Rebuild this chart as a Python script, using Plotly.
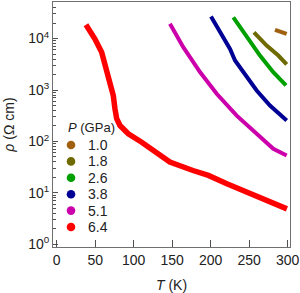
import plotly.graph_objects as go

# ---- data ----
pressures = ["1.0", "1.8", "2.6", "3.8", "5.1", "6.4"]
colors = ["#A0600F", "#6E6A00", "#00A000", "#000094", "#CC00AA", "#FF0000"]

T_10 = [283.5, 292.2, 298.7]
R_10 = [14800, 13200, 12300]

T_18 = [256.2, 272.7, 287.8, 298.7]
R_18 = [13200, 7300, 4680, 3140]

T_26 = [229.4, 246.8, 264.0, 281.3, 297.8]
R_26 = [25900, 10600, 4680, 2220, 1230]

T_38 = [200.4, 214.3, 225.1, 231.6, 242.3, 259.7, 277.0, 298.7]
R_38 = [26700, 12300, 6300, 3750, 2220, 980, 500, 256]

T_51 = [147.1, 164.4, 186.1, 207.8, 233.8, 259.7, 281.3, 298.7]
R_51 = [19300, 6800, 2230, 846, 318, 141, 72, 53.5]

T_64 = [38.0, 44.0, 49.7, 58.4, 64.9, 69.2, 73.5, 75.7, 77.9, 82.2, 93.0,
        110.4, 127.7, 147.0, 177.0, 197.0, 221.0, 251.0, 277.0, 299.0]
R_64 = [18500, 14000, 9800, 5400, 2570, 1420, 780, 430, 277, 204, 141,
        97, 64, 40, 27.3, 21.9, 15.1, 9.6, 6.6, 4.9]

series = [(T_10, R_10), (T_18, R_18), (T_26, R_26), (T_38, R_38), (T_51, R_51), (T_64, R_64)]
widths = [4, 4, 4, 4, 4, 5.5]

x_ticks = [0, 50, 100, 150, 200, 250, 300]
y_exps = [0, 1, 2, 3, 4]
y_ticks = [10 ** e for e in y_exps]
y_ticktext = ["10<sup>%d</sup>" % e for e in y_exps]
y_minor = [m * 10 ** e for e in y_exps for m in range(2, 10)]

FONT = "Liberation Sans, Arial, sans-serif"
YRANGE = [-0.05, 4.71]

fig = go.Figure()
for (t, r), c, w, p in zip(series, colors, widths, pressures):
    fig.add_trace(go.Scatter(x=t, y=r, mode="lines", name=p,
                             line=dict(color=c, width=w),
                             showlegend=False))

axis_common = dict(showline=True, linecolor="#707070", linewidth=1, mirror=True,
                   ticks="inside", tickcolor="#505050", showgrid=False, zeroline=False,
                   automargin=False,
                   tickfont=dict(family=FONT, size=14, color="#222"))

fig.update_xaxes(range=[-4.8, 303], tickvals=x_ticks, ticklen=7,
                 title=dict(text="<i>T</i> (K)", font=dict(family=FONT, size=14, color="#222"), standoff=14),
                 **axis_common)
fig.update_yaxes(type="log", range=YRANGE, tickvals=y_ticks, ticktext=y_ticktext, ticklen=5,
                 title=dict(text="<i>ρ</i> (Ω cm)", font=dict(family=FONT, size=14, color="#222"), standoff=10),
                 **axis_common)
# minor ticks via an overlaid log axis
fig.update_layout(yaxis2=dict(type="log", range=YRANGE, overlaying="y", side="left",
                              tickvals=y_minor, ticks="inside", ticklen=3, tickcolor="#505050",
                              showticklabels=False, showgrid=False, zeroline=False,
                              showline=False, automargin=False, fixedrange=True))
fig.add_trace(go.Scatter(x=[None], y=[None], yaxis="y2", showlegend=False, hoverinfo="skip"))

# legend drawn as markers + labels inside the plot
x0_px, y0_px, step_px = 71, 145, 16.4
pw, ph, ml, mt = 237, 245, 53, 2
def px2paper(xp, yp):
    return (xp - ml) / pw, 1 - (yp - mt) / ph

tx, ty = px2paper(66, 127)
fig.add_annotation(x=tx, y=ty, xref="paper", yref="paper", xanchor="left", yanchor="middle",
                   text="<i>P</i> (GPa)", showarrow=False,
                   font=dict(family=FONT, size=13, color="#222"))
for i, (p, c) in enumerate(zip(pressures, colors)):
    cx, cy = px2paper(x0_px, y0_px + i * step_px)
    rx, ry = 4.3 / pw, 4.3 / ph
    fig.add_shape(type="circle", xref="paper", yref="paper",
                  x0=cx - rx, x1=cx + rx, y0=cy - ry, y1=cy + ry,
                  fillcolor=c, line=dict(width=0))
    lx, ly = px2paper(86, y0_px + i * step_px)
    fig.add_annotation(x=lx, y=ly, xref="paper", yref="paper", xanchor="left", yanchor="middle",
                       text=p, showarrow=False, font=dict(family=FONT, size=14, color="#222"))

fig.update_layout(width=300, height=293, margin=dict(l=53, r=10, t=2, b=46),
                  paper_bgcolor="white", plot_bgcolor="white")

fig.write_html("out.html", config={"displayModeBar": False})
with open("out.html", encoding="utf-8") as f:
    html = f.read()
html = html.replace("<head>", "<head><style>html,body{margin:0;padding:0;overflow:hidden}</style>", 1)
with open("out.html", "w", encoding="utf-8") as f:
    f.write(html)
